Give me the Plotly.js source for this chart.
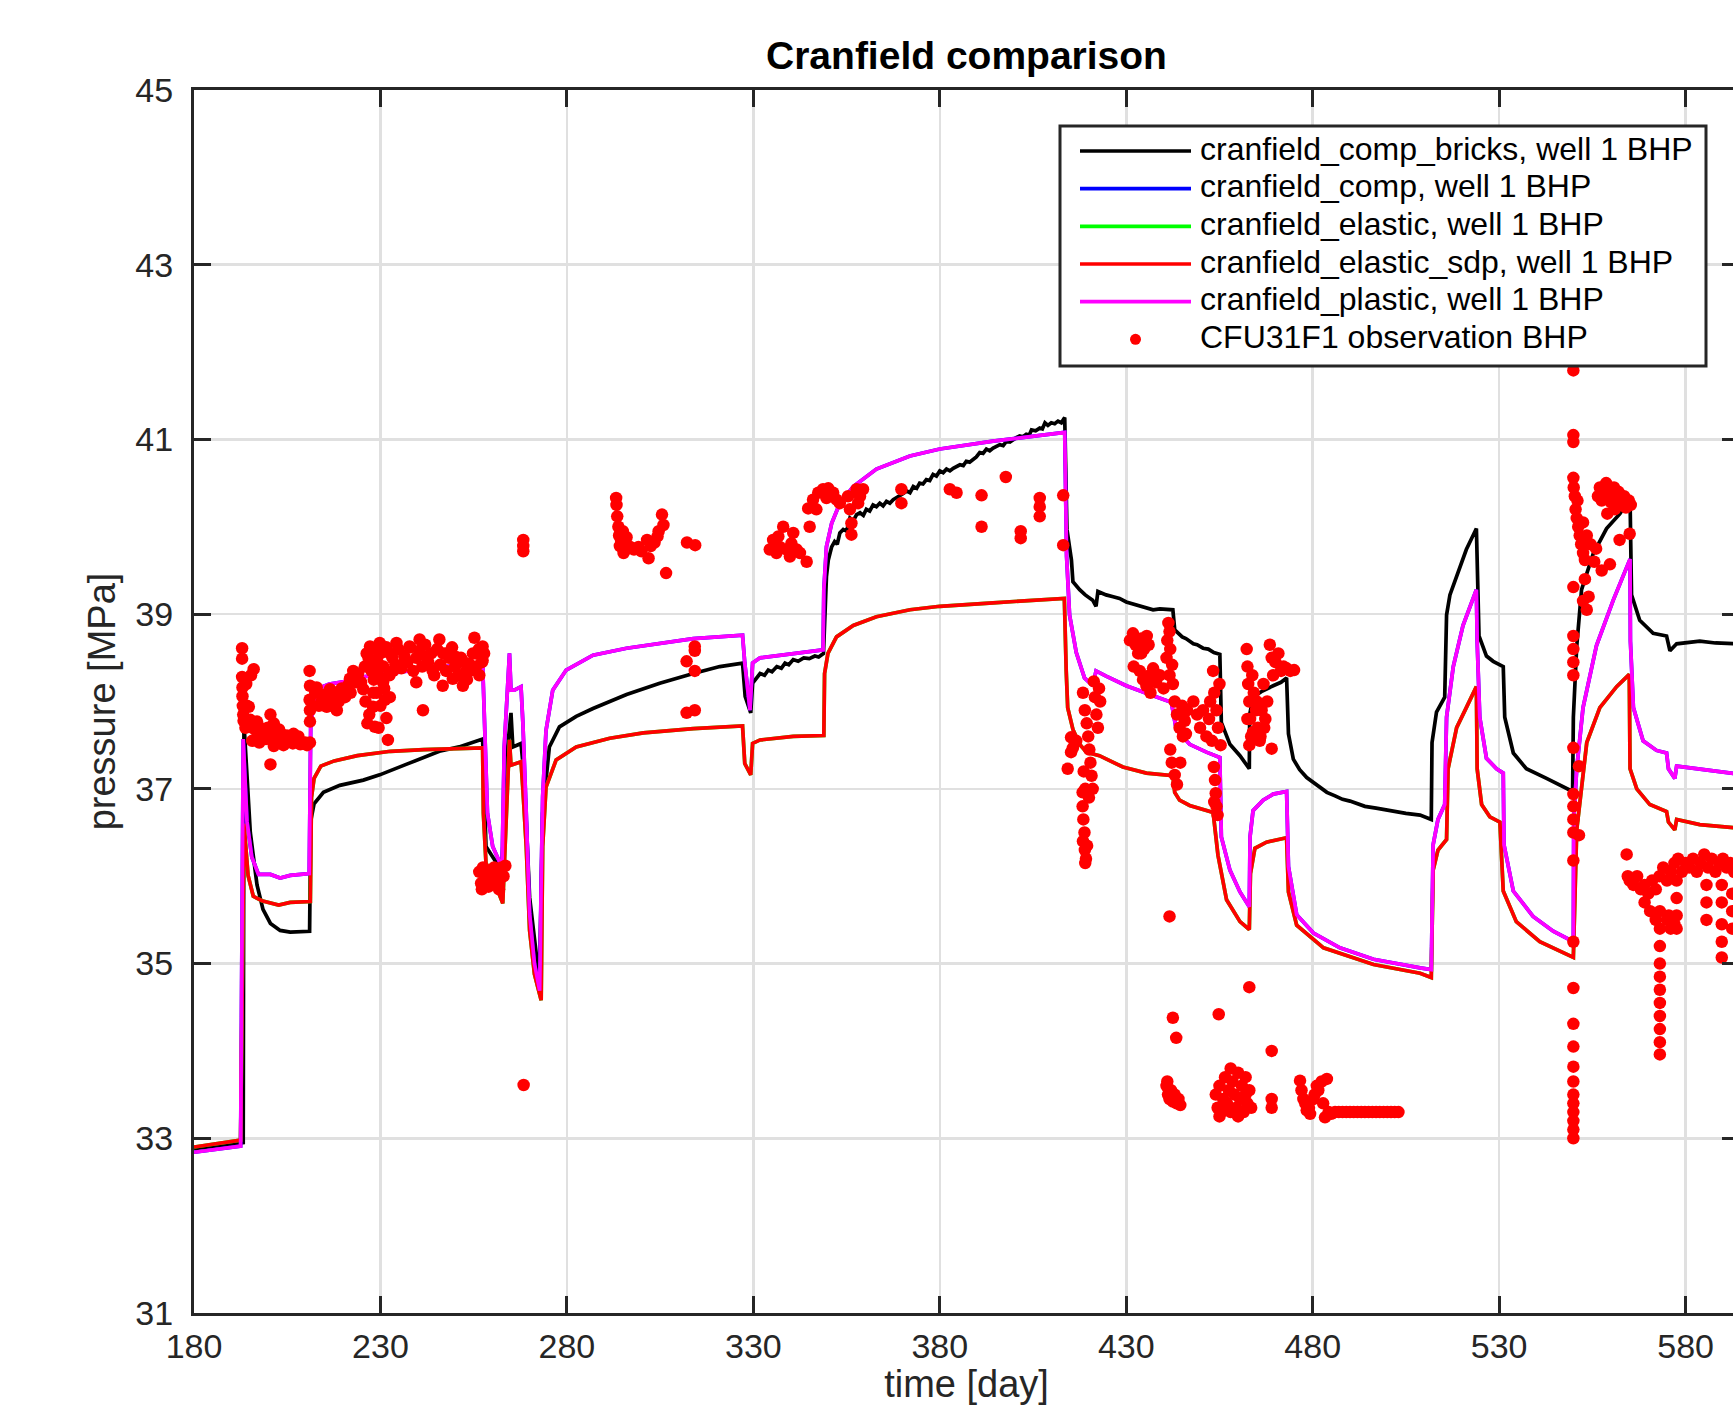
<!DOCTYPE html>
<html>
<head>
<meta charset="utf-8">
<script src="https://cdn.plot.ly/plotly-3.0.1.min.js"></script>
<style>
html, body { margin: 0; padding: 0; overflow: hidden; background: #fff; }
#plot { width: 1760px; height: 1405px; }
</style>
</head>
<body>
<div id="plot"></div>
<script>
// ---------------- data ----------------
const xTicks = [180, 230, 280, 330, 380, 430, 480, 530, 580];
const yTicks = [31, 33, 35, 37, 39, 41, 43, 45];

const seriesNames = [
  'cranfield_comp_bricks, well 1 BHP',
  'cranfield_comp, well 1 BHP',
  'cranfield_elastic, well 1 BHP',
  'cranfield_elastic_sdp, well 1 BHP',
  'cranfield_plastic, well 1 BHP',
  'CFU31F1 observation BHP'
];

// cranfield_comp_bricks (black)
const bricksDay = [180, 192.9, 193.2, 193.4, 194.2, 195.1, 196.9, 198.5, 200.5, 203.1, 205.8, 211.0,
  211.3, 212.2, 214.7, 219.1, 225.4, 229.8, 236.9, 245.8, 251.1, 257.4,
  258.3, 261.9, 262.6, 263.7, 265.0, 265.5, 267.7, 268.6, 270.0, 272.2, 272.7,
  273.5, 275.3, 278.0, 282.5, 287.0, 296.0, 304.9, 313.9, 321.0, 327.1,
  327.8, 329.3, 329.8, 331.8, 333.0, 334.0, 335.0, 336.3, 337.5, 338.5, 339.5, 340.7, 342.0, 343.5, 345.0, 346.5, 347.5, 348.8,
  349.6, 350.1, 351.0, 351.8, 352.5, 353.2, 354.1, 355.0, 355.9, 356.8, 357.7, 358.6, 359.5, 360.3, 361.2, 362.1, 363.0,
  363.9, 364.8, 365.7, 366.6, 367.5, 368.4, 369.3, 370.2, 371.1, 372.0, 372.9, 373.8, 374.6, 375.5, 376.4, 377.3,
  378.2, 379.1, 380.0, 380.9, 381.8, 382.7, 383.6, 384.5, 385.4, 386.3, 387.1, 388.0, 388.9, 389.8, 390.7, 391.6,
  392.5, 393.4, 394.3, 395.2, 396.1, 397.0, 397.9, 398.8, 399.7, 400.5, 401.4, 402.3, 403.2, 404.0, 404.6, 405.7,
  406.8, 407.5, 408.2, 409.0, 409.9, 410.8, 411.7, 412.6, 413.5,
  414.1, 415.3, 415.7, 417.5, 419.0, 421.0, 421.9, 422.4, 424.6, 426.5, 428.2, 430.0, 431.5, 433.6, 435.5, 437.2, 439.0, 442.5,
  443.0, 444.0, 445.0, 446.0, 447.0, 448.0, 449.0, 450.6, 452.0, 453.5, 455.1,
  455.5, 457.8, 460.5, 463.0, 463.1, 464.0, 466.5, 469.4, 471.5, 473.0,
  473.3, 473.5, 474.8, 476.5, 478.4, 480.0, 481.0, 482.0, 483.8, 486.0, 488.0, 490.0, 491.8, 494.0, 497.0, 500.8, 503.3, 505.0, 508.8, 511.8,
  512.0, 513.2, 515.4, 515.9, 516.8, 519.4, 521.2, 523.9,
  524.6, 526.6, 528.4, 531.1, 531.5, 533.8, 537.3, 542.7, 548.1, 549.7,
  549.9, 550.8, 552.1, 555.2, 558.8, 562.4, 565.1,
  565.5, 567.7, 571.3, 574.9, 575.8, 577.6, 583.8, 588.0, 592.7, 594.3];
const bricksP = [32.88, 32.95, 32.95, 37.75, 37.1, 36.5, 35.9, 35.62, 35.46, 35.38, 35.36, 35.37,
  36.63, 36.83, 36.96, 37.04, 37.1, 37.16, 37.28, 37.43, 37.48, 37.57,
  36.34, 36.1, 36.1, 37.29, 37.87, 37.48, 37.52, 37.1, 35.76, 34.96, 34.88,
  36.72, 37.48, 37.71, 37.83, 37.92, 38.08, 38.21, 38.32, 38.4, 38.44,
  38.06, 37.87, 38.21, 38.32, 38.30, 38.36, 38.34, 38.40, 38.38, 38.44, 38.42, 38.48, 38.46, 38.50, 38.49, 38.52, 38.51, 38.55,
  39.43, 39.62, 39.77, 39.83, 39.80, 39.93, 39.97, 39.95, 40.10, 40.07, 40.14, 40.16, 40.13, 40.20, 40.18, 40.25, 40.23,
  40.27, 40.24, 40.29, 40.27, 40.31, 40.33, 40.35, 40.38, 40.41, 40.39, 40.46, 40.44, 40.50, 40.49, 40.54, 40.53,
  40.60, 40.58, 40.64, 40.62, 40.66, 40.64, 40.67, 40.69, 40.71, 40.70, 40.75, 40.74, 40.77, 40.80, 40.85, 40.84,
  40.89, 40.87, 40.90, 40.92, 40.94, 40.93, 40.98, 40.97, 41.00, 41.02, 41.04, 41.03, 41.06, 41.05, 41.11, 41.10,
  41.13, 41.12, 41.19, 41.16, 41.19, 41.18, 41.21, 41.19, 41.25,
  39.97, 39.62, 39.37, 39.28, 39.22, 39.16, 39.09, 39.26, 39.22, 39.2, 39.18, 39.14, 39.12, 39.09, 39.07, 39.05, 39.06, 39.05,
  38.82, 38.78, 38.74, 38.72, 38.69, 38.66, 38.65, 38.61, 38.60, 38.56, 38.54,
  37.76, 37.51, 37.38, 37.23, 37.85, 38.05, 38.12, 38.18, 38.22, 38.27,
  37.85, 37.63, 37.34, 37.22, 37.13, 37.08, 37.05, 37.02, 36.96, 36.92, 36.88, 36.86, 36.83, 36.80, 36.78, 36.75, 36.74, 36.72, 36.7, 36.65,
  37.53, 37.88, 38.05, 38.99, 39.22, 39.51, 39.74, 39.98,
  38.75, 38.52, 38.46, 38.4, 37.82, 37.41, 37.23, 37.12, 37.0, 36.97,
  37.82, 38.63, 39.28, 39.69, 39.98, 40.15, 40.33,
  39.22, 38.93, 38.78, 38.75, 38.58, 38.66, 38.69, 38.67, 38.66, 38.66];

// cranfield_plastic (magenta); cranfield_comp (blue) lies underneath it
const plasticDay = [180, 192.5, 193.2, 194.2, 195.5, 197.3, 200.5, 203.1, 205.8, 210.9,
  211.3, 212.7, 216.3, 220.8, 225.0, 235.0, 245.0, 257.4,
  257.8, 258.7, 260.1, 261.9, 262.6, 263.2, 264.6, 265.0, 265.9, 267.7, 268.2, 269.1, 270.0, 271.3, 272.7,
  273.1, 273.5, 274.4, 276.2, 279.8, 287.0, 296.0, 304.9, 313.9, 327.1,
  327.7, 329.1, 329.8, 331.8, 340.7, 348.7,
  348.9, 349.6, 351.0, 353.2, 356.8, 363.0, 372.0, 380.0, 394.3, 413.5,
  414.0, 414.8, 416.6, 418.8, 421.0, 421.9, 424.6, 430.0, 436.3, 442.1,
  443.4, 447.0, 451.5, 455.1, 455.5, 457.8, 460.5, 463.0,
  463.2, 464.0, 466.7, 469.4, 473.0, 473.5, 475.7, 480.2, 487.3, 496.3, 508.8, 511.8,
  512.3, 513.6, 515.4, 515.9, 517.7, 520.3, 523.9,
  524.1, 524.8, 526.6, 529.3, 531.1, 531.3, 533.8, 539.1, 544.5, 549.9,
  550.0, 550.8, 552.5, 556.1, 560.6, 565.1,
  565.2, 566.0, 568.6, 572.2, 574.9, 575.4, 577.1, 577.6, 583.8, 592.7, 594.3];
const plasticP = [32.84, 32.91, 37.57, 36.63, 36.22, 36.02, 36.02, 35.98, 36.01, 36.03,
  37.73, 38.14, 38.2, 38.23, 38.28, 38.34, 38.39, 38.44,
  37.87, 36.72, 36.34, 36.15, 36.1, 37.48, 38.55, 38.13, 38.13, 38.17, 37.75, 36.72, 35.57, 35.0, 34.69,
  35.95, 36.91, 37.67, 38.13, 38.36, 38.53, 38.61, 38.67, 38.72, 38.76,
  38.44, 37.9, 38.44, 38.5, 38.55, 38.59,
  39.28, 39.77, 40.04, 40.27, 40.46, 40.66, 40.81, 40.89, 40.98, 41.08,
  39.66, 38.99, 38.56, 38.27, 38.18, 38.35, 38.29, 38.18, 38.08, 37.99,
  37.68, 37.51, 37.42, 37.36, 36.45, 36.07, 35.82, 35.65,
  36.45, 36.75, 36.87, 36.94, 36.97, 36.11, 35.56, 35.35, 35.18, 35.05, 34.95, 34.93,
  36.36, 36.65, 36.82, 37.82, 38.4, 38.87, 39.28,
  38.69, 37.82, 37.35, 37.23, 37.18, 36.36, 35.83, 35.54, 35.37, 35.25,
  36.65, 37.23, 37.93, 38.64, 39.16, 39.63,
  38.69, 37.93, 37.55, 37.44, 37.41, 37.23, 37.12, 37.26, 37.23, 37.18, 37.17];
const compDay = plasticDay;
const compP = plasticP;

// cranfield_elastic_sdp (red); cranfield_elastic (green) lies underneath it
const sdpDay = [180, 192.5, 193.4, 194.5, 195.9, 198.2, 202.7, 205.8, 211.2,
  211.5, 212.2, 214.0, 217.6, 223.8, 232.7, 241.6, 257.4,
  257.6, 258.3, 259.7, 262.8, 263.7, 264.6, 265.0, 267.7, 268.2, 269.1, 270.0, 271.3, 273.1,
  273.5, 274.4, 277.1, 282.5, 291.5, 300.5, 313.9, 327.1,
  327.7, 329.3, 329.8, 331.8, 340.7, 348.9,
  349.1, 350.0, 352.3, 356.8, 363.0, 372.0, 380.0, 394.3, 413.4,
  413.9, 414.3, 415.7, 417.5, 419.3, 422.8, 429.1, 435.4, 442.5,
  443.0, 444.3, 447.0, 453.3, 454.6, 456.9, 460.5, 463.0,
  463.3, 464.5, 467.6, 473.0, 473.5, 475.7, 482.9, 496.3, 508.8, 511.8,
  512.3, 513.6, 515.9, 516.3, 518.6, 521.2, 523.9,
  524.1, 525.3, 527.5, 530.2, 531.1, 534.6, 540.9, 549.9,
  550.8, 553.5, 557.0, 561.5, 564.9,
  565.1, 566.9, 570.4, 574.9, 575.4, 577.1, 577.6, 583.8, 592.7, 594.3];
const sdpP = [32.9, 32.98, 36.6, 36.01, 35.77, 35.72, 35.67, 35.7, 35.71,
  36.9, 37.12, 37.26, 37.32, 37.38, 37.43, 37.45, 37.47,
  36.72, 36.15, 36.03, 35.69, 36.72, 37.56, 37.27, 37.31, 36.99, 36.34, 35.38, 34.88, 34.58,
  36.34, 37.02, 37.33, 37.48, 37.58, 37.64, 37.69, 37.72,
  37.29, 37.16, 37.52, 37.56, 37.6, 37.61,
  38.32, 38.55, 38.74, 38.87, 38.97, 39.05, 39.09, 39.13, 39.18,
  38.35, 37.93, 37.68, 37.51, 37.42, 37.38, 37.25, 37.18, 37.15,
  36.96, 36.87, 36.81, 36.73, 36.24, 35.73, 35.48, 35.39,
  36.03, 36.32, 36.39, 36.44, 35.82, 35.44, 35.18, 34.99, 34.89, 34.84,
  36.07, 36.3, 36.42, 37.23, 37.7, 37.93, 38.17,
  37.23, 36.82, 36.68, 36.62, 35.83, 35.48, 35.25, 35.07,
  36.53, 37.53, 37.93, 38.17, 38.31,
  37.23, 37.0, 36.82, 36.74, 36.62, 36.53, 36.65, 36.59, 36.56, 36.55];
const elasticDay = sdpDay;
const elasticP = sdpP;

// CFU31F1 observation BHP (red dots)
const obsDay = [
  192.9, 192.9, 192.9, 193.0, 193.0, 193.1, 193.2, 193.3, 194.7, 196.0, 195.1, 196.0, 195.6, 196.9, 198.2, 200.5, 201.4, 201.8, 201.4, 200.5,
  203.1, 204.9, 205.8, 207.6, 208.5, 209.8, 211.1, 197.5, 199.3, 203.5, 206.7,
  197.0, 198.8, 199.8, 202.0, 202.8, 204.0, 206.5, 208.0, 210.3, 193.8, 194.2, 195.3, 194.0,
  211.0, 211.1, 211.0, 211.1, 211.1, 212.5, 212.9, 214.7, 215.6, 216.5, 218.3, 219.2, 220.9, 221.8, 222.7, 223.6, 225.4, 226.3,
  227.2, 228.1, 228.1, 228.0, 228.5, 228.9, 229.8, 230.7, 231.2, 231.6, 232.0, 232.5, 233.4, 234.3, 236.0, 237.8, 239.6, 240.5,
  241.4, 242.3, 244.0, 245.8, 246.7, 247.6, 249.4, 250.3, 252.1, 253.0, 253.8, 255.2, 255.6, 256.5, 257.4, 257.8, 257.4,
  213.5, 214.2, 215.0, 216.0, 217.0, 217.8, 218.8, 219.6, 220.5, 221.3, 222.0, 223.0, 224.0, 224.8, 225.8, 226.8,
  227.6, 228.5, 229.2, 230.0, 230.8, 231.6, 232.4, 233.2, 234.0, 234.8, 235.6, 236.4, 237.2, 238.0, 238.8, 239.6,
  240.4, 241.2, 242.0, 242.8, 243.6, 244.4, 245.2, 246.0, 246.8, 247.6, 248.4, 249.2, 250.0, 250.8, 251.6, 252.4,
  253.2, 254.0, 254.8, 255.6, 256.4, 257.2, 226.0, 227.0, 229.0, 230.0, 231.0, 226.5, 229.5, 232.5, 228.2, 229.8,
  256.5, 257.0, 257.5, 258.0, 258.5, 259.0, 259.5, 260.0, 260.5, 261.0, 261.5, 262.0, 262.5, 263.0, 263.5, 257.2, 261.8,
  268.3, 268.3, 268.3, 268.4,
  293.2, 293.3, 293.5, 293.8, 294.0, 294.2, 294.5, 295.0, 295.2, 295.5, 296.0, 296.3, 297.0, 298.0, 299.2, 300.0, 301.5, 301.9,
  302.5, 303.5, 304.3, 304.6, 305.5, 305.9, 306.6, 312.2, 314.4,
  312.1, 314.3, 314.3, 314.3, 312.1, 314.3,
  334.4, 335.3, 336.7, 338.0, 337.1, 338.9, 339.8, 340.7, 341.6, 342.5, 344.3, 340.2, 336.2,
  345.1, 344.7, 346.0, 347.4, 348.7, 350.1, 351.4, 352.3, 346.9, 349.6, 353.2,
  355.4, 355.9, 356.3, 356.3, 357.7, 358.6, 358.1, 359.4,
  369.7, 369.7, 382.7, 384.5, 391.2, 391.2, 397.7, 401.7, 401.7, 406.8, 406.8, 406.8, 413.1, 413.1,
  415.2, 415.7, 414.3, 415.2, 416.6,
  418.4, 418.9, 419.4, 419.8, 420.1, 420.4, 420.7, 421.0, 421.3, 421.6, 422.0, 422.4, 418.6, 418.3, 418.3, 418.5,
  418.8, 418.4, 418.9, 419.2, 419.5, 419.0, 422.7, 423.0, 419.0, 420.0,
  431.0, 431.8, 432.5, 433.2, 434.0, 434.8, 435.5, 433.6, 434.5, 435.4, 436.3, 437.2, 438.0, 436.5,
  432.0, 434.0, 436.0, 439.0, 440.0, 444.8, 445.2, 446.3,
  440.8, 441.0, 441.3, 441.6, 441.8, 442.3, 441.6, 442.5, 443.0, 443.6, 444.3, 445.0, 445.7, 446.0,
  441.8, 442.2, 443.0, 443.6, 444.5, 441.6,
  448.0, 449.0, 449.8, 450.6, 451.5, 452.2, 453.0, 452.5, 453.3, 453.6, 454.2, 454.6, 455.0, 455.3,
  453.5, 453.8, 454.0, 454.2, 454.5, 453.6, 454.8,
  462.3, 462.5, 462.7, 463.0, 463.2, 463.5, 463.8, 464.2, 464.8, 465.3, 465.8, 466.3, 466.8, 467.3, 467.8,
  462.5, 463.0, 464.0, 465.0, 466.0, 467.0,
  468.5, 469.0, 469.4, 470.0, 470.8, 471.5, 472.2, 473.0, 474.0, 475.0, 469.0, 463.0, 469.0,
  442.5, 443.4,
  440.8, 441.2, 441.6, 442.0, 442.5, 443.0, 443.5, 444.0, 444.5, 441.0,
  454.0, 454.5, 455.0, 455.5, 456.0, 456.5, 457.0, 457.5, 458.0, 458.5, 459.0, 459.5, 460.0, 460.5, 461.0, 461.5,
  462.0, 462.5, 463.0, 463.5, 455.0, 458.0, 460.0, 462.0,
  469.0, 469.0,
  476.6, 477.5, 478.4, 479.3, 480.2, 481.1, 482.4, 483.8, 484.3, 483.3, 477.0, 478.0, 479.0, 480.5, 481.5, 482.8,
  485.0, 486.0, 487.0, 488.0, 489.0, 490.0, 491.0, 492.0, 493.0, 494.0, 495.0, 496.0, 497.0, 498.0, 499.0, 500.0,
  501.0, 502.0, 503.0,
  549.9, 549.9, 549.9, 549.9, 550.0, 550.3, 550.5, 550.8, 551.2, 551.6, 552.0, 552.5, 553.0, 551.0, 552.5, 553.5,
  554.5, 555.5, 556.0, 553.0, 552.5, 553.5, 554.0, 557.5, 559.7, 565.0, 562.3,
  549.9, 549.9, 549.9, 549.9, 549.9, 549.9, 551.4, 549.9, 549.9, 549.9, 549.9, 551.4, 549.9, 549.9, 549.9, 549.9,
  549.9, 549.9, 549.9, 549.9, 549.9, 549.9, 549.9, 549.9, 549.9,
  556.5, 557.0, 557.5, 558.0, 558.7, 559.5, 560.0, 560.8, 561.5, 562.0, 562.7, 563.5, 564.0, 564.8, 565.3, 559.0, 561.0,
  564.2, 564.5, 565.0, 566.0, 567.0, 568.0, 569.0, 570.0, 571.0, 572.0, 573.0, 574.0, 575.0, 576.0, 577.0, 578.0,
  579.0, 580.0, 581.0, 582.0, 583.0, 584.0, 585.0, 586.0, 587.0, 588.0, 589.0, 590.0, 591.0, 592.0, 593.0, 594.0,
  573.1, 573.1, 573.1, 573.1, 573.1, 573.1, 573.1, 573.1, 573.1, 573.1, 573.1,
  575.0, 576.0, 577.0, 577.6, 577.6, 577.6, 577.6, 585.6, 585.6, 585.6,
  589.7, 589.7, 589.7, 589.7, 589.7, 592.5, 592.5, 592.5, 569.0, 570.5, 572.0, 575.5
];
const obsP = [
  38.61, 38.49, 38.28, 38.16, 38.06, 37.95, 37.85, 37.78, 37.94, 38.37, 37.79, 37.69, 37.55, 37.77, 37.69, 37.85, 37.75, 37.61, 37.49, 37.28,
  37.65, 37.61, 37.55, 37.59, 37.51, 37.53, 37.53, 37.53, 37.57, 37.58, 37.63,
  37.6, 37.62, 37.7, 37.55, 37.68, 37.5, 37.52, 37.6, 37.5, 37.7, 37.95, 38.3, 38.2,
  38.35, 38.18, 38.02, 37.9, 37.77, 38.1, 38.16, 38.06, 37.94, 38.14, 37.9, 38.06, 38.1, 38.26, 38.35, 38.22, 38.14, 38.55,
  38.63, 38.47, 38.1, 37.94, 37.71, 38.35, 38.67, 38.22, 38.02, 37.81, 37.56, 38.55, 38.35, 38.67, 38.43, 38.63, 38.22, 38.71,
  37.9, 38.51, 38.35, 38.71, 38.18, 38.55, 38.26, 38.51, 38.18, 38.35, 38.43, 38.73, 38.55, 38.3, 38.63, 38.55, 38.47,
  37.95, 38.0, 38.08, 37.98, 38.02, 38.1, 38.0, 38.15, 38.05, 38.18, 38.1, 38.28, 38.32, 38.22, 38.4, 38.5,
  38.35, 38.6, 38.45, 38.55, 38.4, 38.62, 38.3, 38.5, 38.42, 38.6, 38.38, 38.52, 38.45, 38.62, 38.35, 38.5,
  38.58, 38.4, 38.65, 38.45, 38.55, 38.3, 38.6, 38.42, 38.55, 38.35, 38.5, 38.62, 38.4, 38.3, 38.5, 38.45,
  38.25, 38.35, 38.55, 38.4, 38.6, 38.45, 38.0, 37.85, 38.1, 37.95, 38.15, 37.75, 37.7, 38.05, 38.25, 38.28,
  36.05, 35.92, 36.1, 35.95, 36.0, 35.88, 36.05, 35.95, 36.1, 35.92, 36.02, 35.98, 36.1, 36.0, 36.12, 35.85, 35.85,
  39.85, 39.78, 39.72, 33.61,
  40.33, 40.25, 40.12, 40.0, 39.9, 39.78, 39.85, 39.95, 39.7, 39.8, 39.88, 39.75, 39.77, 39.74, 39.77, 39.72, 39.85, 39.64,
  39.78, 39.82, 39.89, 39.95, 40.14, 40.02, 39.47, 39.82, 39.79,
  38.46, 38.63, 38.58, 38.35, 37.87, 37.9,
  39.74, 39.85, 39.89, 40.0, 39.77, 39.74, 39.66, 39.93, 39.74, 39.7, 39.6, 39.81, 39.7,
  40.0, 40.21, 40.31, 40.39, 40.43, 40.44, 40.39, 40.31, 40.2, 40.33, 40.27,
  40.35, 40.2, 40.04, 39.91, 40.43, 40.35, 40.27, 40.43,
  40.43, 40.27, 40.43, 40.39, 40.36, 40.0, 40.57, 39.95, 39.87, 40.33, 40.23, 40.12, 40.36, 39.79,
  37.59, 37.47, 37.23, 37.42, 37.55,
  38.1, 37.9, 37.75, 37.6, 37.45, 37.3, 37.15, 37.0, 38.23, 38.05, 37.85, 37.7, 37.2, 36.96, 36.8, 36.65,
  36.5, 36.4, 36.3, 36.2, 36.35, 36.15, 38.15, 38.0, 37.0, 36.9,
  38.7, 38.78, 38.65, 38.55, 38.72, 38.6, 38.75, 38.35, 38.25, 38.18, 38.3, 38.38, 38.22, 38.1,
  38.4, 38.55, 38.65, 38.3, 38.15, 37.85, 37.6, 37.9,
  38.5, 38.7, 38.9, 38.8, 38.6, 38.42, 38.3, 38.2, 38.0, 37.85, 37.7, 37.95, 37.78, 37.63,
  37.45, 37.3, 37.16, 37.05, 37.3, 35.54,
  38.0, 37.85, 37.7, 37.9, 37.6, 37.8, 37.55, 38.0, 38.35, 38.1, 37.9, 37.7, 38.2, 37.5,
  37.25, 37.1, 36.95, 36.8, 36.7, 36.85, 34.42,
  38.6, 38.4, 38.2, 38.0, 37.8, 37.6, 38.3, 38.1, 37.9, 37.7, 37.55, 37.9, 38.2, 37.8, 38.0,
  37.8, 37.5, 37.65, 38.0, 37.6, 37.7,
  38.65, 38.5, 38.3, 38.45, 38.55, 38.35, 38.4, 38.38, 38.35, 38.36, 37.46, 34.73, 34.0,
  34.38, 34.15,
  33.6, 33.5, 33.45, 33.55, 33.42, 33.5, 33.4, 33.45, 33.38, 33.65,
  33.5, 33.35, 33.6, 33.3, 33.45, 33.7, 33.4, 33.55, 33.3, 33.65, 33.5, 33.35, 33.75, 33.45, 33.6, 33.3,
  33.5, 33.4, 33.55, 33.35, 33.25, 33.8, 33.25, 33.7,
  33.45, 33.35,
  33.66, 33.45, 33.32, 33.28, 33.45, 33.6, 33.65, 33.68, 33.3, 33.24, 33.55, 33.4, 33.35, 33.5, 33.55, 33.4,
  33.28, 33.3, 33.3, 33.3, 33.3, 33.3, 33.3, 33.3, 33.3, 33.3, 33.3, 33.3, 33.3, 33.3, 33.3, 33.3,
  33.3, 33.3, 33.3,
  41.79, 41.05, 40.97, 40.56, 40.45, 40.35, 40.2, 40.1, 40.0, 39.9, 39.8, 39.7, 39.62, 40.3, 40.05, 39.9,
  39.8, 39.6, 39.75, 39.4, 39.15, 39.05, 39.2, 39.5, 39.57, 39.92, 39.85,
  39.31, 38.75, 38.6, 38.45, 38.3, 37.47, 37.26, 36.94, 36.8, 36.65, 36.5, 36.47, 36.18, 35.25, 34.72, 34.31,
  34.05, 33.82, 33.65, 33.5, 33.4, 33.3, 33.2, 33.1, 33.0,
  40.35, 40.45, 40.3, 40.4, 40.5, 40.38, 40.28, 40.45, 40.3, 40.4, 40.25, 40.35, 40.22, 40.3, 40.25, 40.15, 40.2,
  36.25, 36.0, 35.95, 35.9, 36.0, 35.85, 35.9, 35.8, 35.95, 35.85, 36.0, 36.1, 35.95, 36.05, 36.15, 36.2,
  36.05, 36.15, 36.1, 36.2, 36.05, 36.15, 36.25, 36.1, 36.2, 36.05, 36.15, 36.2, 36.1, 36.15, 36.05, 36.1,
  35.6, 35.4, 35.2, 35.0, 34.85, 34.7, 34.55, 34.4, 34.25, 34.1, 33.96,
  35.5, 35.4, 35.45, 35.95, 35.75, 35.55, 35.4, 35.9, 35.7, 35.5,
  35.9, 35.7, 35.45, 35.25, 35.07, 35.8, 35.6, 35.4, 35.7, 35.6, 35.5, 35.55
];

// ---------------- layout geometry (pixels) ----------------
const W = 1760, H = 1405;
const L = 194, R = 1739, T = 90, B = 1313;
const FONT = 'Liberation Sans, Arial, Helvetica, sans-serif';
const AX = '#262626';
const px = v => (v - L) / (R - L);
const py = v => (B - v) / (B - T);

const lineW = 3.7;
const traces = [
  {x: bricksDay, y: bricksP, name: seriesNames[0], color: '#000000'},
  {x: compDay, y: compP, name: seriesNames[1], color: '#0000ff'},
  {x: elasticDay, y: elasticP, name: seriesNames[2], color: '#00ff00'},
  {x: sdpDay, y: sdpP, name: seriesNames[3], color: '#ff0000'},
  {x: plasticDay, y: plasticP, name: seriesNames[4], color: '#ff00ff'}
].map(s => ({
  type: 'scatter', mode: 'lines', x: s.x, y: s.y, name: s.name,
  line: {color: s.color, width: lineW}, showlegend: false, hoverinfo: 'skip'
}));
traces.push({
  type: 'scatter', mode: 'markers', x: obsDay, y: obsP, name: seriesNames[5],
  marker: {color: '#ff0000', size: 12.5, line: {width: 0}}, showlegend: false, hoverinfo: 'skip'
});

// ---------------- legend drawn in MATLAB style ----------------
const legColors = ['#000000', '#0000ff', '#00ff00', '#ff0000', '#ff00ff'];
const rowY = [151, 188.7, 226.3, 264, 301.7, 339.3];
const shapes = [{
  type: 'rect', xref: 'paper', yref: 'paper', layer: 'above',
  x0: px(1060), x1: px(1706), y0: py(366), y1: py(126),
  line: {color: AX, width: 3}, fillcolor: '#ffffff'
}];
legColors.forEach((c, i) => shapes.push({
  type: 'line', xref: 'paper', yref: 'paper', layer: 'above',
  x0: px(1080), x1: px(1191), y0: py(rowY[i]), y1: py(rowY[i]),
  line: {color: c, width: lineW}
}));
shapes.push({
  type: 'circle', xref: 'paper', yref: 'paper', layer: 'above',
  x0: px(1130), x1: px(1141), y0: py(rowY[5] + 5.5), y1: py(rowY[5] - 5.5),
  line: {width: 0}, fillcolor: '#ff0000'
});
const annotations = seriesNames.map((n, i) => ({
  xref: 'paper', yref: 'paper', x: px(1198), y: py(rowY[i] - 2.5),
  xanchor: 'left', yanchor: 'middle', showarrow: false, text: n,
  font: {family: FONT, size: 32, color: '#000000'}
}));

const axisCommon = {
  showline: true, linecolor: AX, linewidth: 3, mirror: 'ticks',
  ticks: 'inside', ticklen: 17, tickwidth: 3, tickcolor: AX,
  showgrid: true, gridcolor: '#e0e0e0', gridwidth: 2.5, zeroline: false,
  tickfont: {family: FONT, size: 34, color: AX},
  fixedrange: true
};

const layout = {
  width: W, height: H,
  margin: {l: L, r: W - R, t: T, b: H - B, pad: 0},
  paper_bgcolor: '#ffffff', plot_bgcolor: '#ffffff',
  showlegend: false,
  title: {
    text: 'Cranfield comparison', xref: 'paper', x: 0.5, xanchor: 'center',
    yref: 'container', y: 1 - 55 / H, yanchor: 'middle',
    font: {family: FONT, size: 39, color: '#000000', weight: 'bold'}
  },
  xaxis: Object.assign({}, axisCommon, {
    range: [180, 180 + (R - L) / 3.729], tickmode: 'array', tickvals: xTicks,
    ticktext: xTicks.map(String), ticklabelstandoff: 1,
    title: {text: 'time [day]', font: {family: FONT, size: 38, color: AX}, standoff: 22}
  }),
  yaxis: Object.assign({}, axisCommon, {
    range: [31, 45], tickmode: 'array', tickvals: yTicks,
    ticktext: yTicks.map(String), ticklabelstandoff: 11,
    title: {text: 'pressure [MPa]', font: {family: FONT, size: 38, color: AX}, standoff: 9}
  }),
  shapes: shapes,
  annotations: annotations
};

Plotly.newPlot('plot', traces, layout, {displayModeBar: false, staticPlot: true});
</script>
</body>
</html>
